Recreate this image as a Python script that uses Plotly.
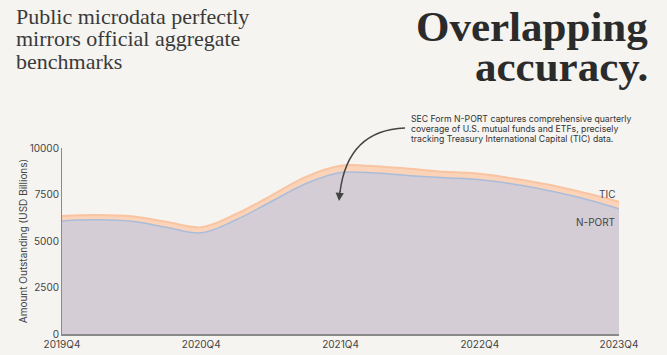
import plotly.graph_objects as go

quarters = ["2019Q4", "2020Q1", "2020Q2", "2020Q3", "2020Q4", "2021Q1", "2021Q2", "2021Q3",
            "2021Q4", "2022Q1", "2022Q2", "2022Q3", "2022Q4", "2023Q1", "2023Q2", "2023Q3", "2023Q4"]
tic = [6350, 6400, 6330, 6030, 5740, 6450, 7430, 8450, 9050, 9020, 8880, 8720, 8610, 8350, 8020, 7590, 7110]
nport = [6080, 6140, 6060, 5740, 5440, 6140, 7110, 8080, 8680, 8650, 8510, 8400, 8290, 8050, 7700, 7270, 6730]
tick_labels = ["2019Q4", "2020Q4", "2021Q4", "2022Q4", "2023Q4"]
y_ticks = [0, 2500, 5000, 7500, 10000]

xs = list(range(len(quarters)))
tickvals = [quarters.index(t) for t in tick_labels]

BG = "#f5f4f0"
fig = go.Figure()
fig.add_trace(go.Scatter(x=xs, y=tic, mode="lines", line=dict(color="#f8c4a2", width=2, shape="spline", smoothing=1),
                         fill="tozeroy", fillcolor="#fbd3b8", name="TIC", hoverinfo="skip"))
fig.add_trace(go.Scatter(x=xs, y=nport, mode="lines", line=dict(color="#a9bddb", width=1.5, shape="spline", smoothing=1),
                         fill="tozeroy", fillcolor="#d4cdd5", name="N-PORT", hoverinfo="skip"))

L, R, T, B = 62, 48, 148, 21
W, H = 667, 355
pw, ph = W - L - R, H - T - B

def px(xp):
    return (xp - L) / pw

def py(yp):
    return (H - B - yp) / ph

fig.update_layout(
    width=W, height=H, margin=dict(l=L, r=R, t=T, b=B, autoexpand=False),
    paper_bgcolor=BG, plot_bgcolor=BG, showlegend=False,
    font=dict(family="Inter, sans-serif", color="#444", size=10),
    xaxis=dict(range=[0, len(quarters) - 1], tickvals=tickvals, ticktext=tick_labels, showgrid=False, zeroline=False,
               showline=True, linecolor="#8a8a8a", linewidth=1.5, ticks="", tickfont=dict(size=10, color="#444"),
               automargin=False),
    yaxis=dict(range=[0, 10000], tickvals=y_ticks, ticktext=[str(v) for v in y_ticks], showgrid=False, zeroline=False,
               showline=True, linecolor="#8a8a8a", linewidth=1, ticks="", tickfont=dict(size=10, color="#444"),
               automargin=False,
               title=dict(text="Amount Outstanding (USD Billions)", font=dict(size=10, color="#444"), standoff=0)),
)

serif = "Liberation Serif, serif"
annos = []
for i, line in enumerate(["Public microdata perfectly", "mirrors official aggregate", "benchmarks"]):
    annos.append(dict(text=line, x=px(14), y=py(1.5 + 22.5 * i), xref="paper", yref="paper",
                      xanchor="left", yanchor="top", align="left", showarrow=False,
                      font=dict(family=serif, size=22, color="#3a3a3a")))
for i, line in enumerate(["Overlapping", "accuracy."]):
    annos.append(dict(text="<b>%s</b>" % line, x=px(650), y=py(0.5 + 40 * i), xref="paper", yref="paper",
                      xanchor="right", yanchor="top", align="right", showarrow=False,
                      font=dict(family=serif, size=43, color="#2b2b2b")))
note_lines = ["SEC Form N-PORT captures comprehensive quarterly",
              "coverage of U.S. mutual funds and ETFs, precisely",
              "tracking Treasury International Capital (TIC) data."]
for i, line in enumerate(note_lines):
    annos.append(dict(text=line, x=px(409), y=py(119 + 10.2 * i), xref="paper", yref="paper",
                      xanchor="left", yanchor="middle", align="left", showarrow=False,
                      font=dict(family="Inter, sans-serif", size=8.7, color="#333")))
annos += [
    dict(text="TIC", x=len(quarters) - 1, y=tic[-1], xref="x", yref="y", xanchor="right", yanchor="bottom",
         yshift=0, xshift=-2, showarrow=False, font=dict(size=10, color="#444")),
    dict(text="N-PORT", x=len(quarters) - 1, y=nport[-1], xref="x", yref="y", xanchor="right", yanchor="top",
         yshift=-5, xshift=-2, showarrow=False, font=dict(size=10, color="#444")),
    dict(text="", x=px(339), y=py(201), xref="paper", yref="paper", ax=1, ay=-11,
         showarrow=True, arrowhead=2, arrowsize=1.1, arrowwidth=1.5, arrowcolor="#444"),
]
fig.update_layout(annotations=annos)

path = "M {x0},{y0} Q {x1},{y1} {x2},{y2}".format(x0=px(405), y0=py(128), x1=px(348), y1=py(130), x2=px(340), y2=py(192))
fig.add_shape(type="path", path=path, xref="paper", yref="paper", line=dict(color="#444", width=1.5))

post = ("document.body.style.margin='0';document.body.style.background='%s';"
        "document.documentElement.style.background='%s';" % (BG, BG))
fig.write_html("out.html", post_script=post, config={"displayModeBar": False})
